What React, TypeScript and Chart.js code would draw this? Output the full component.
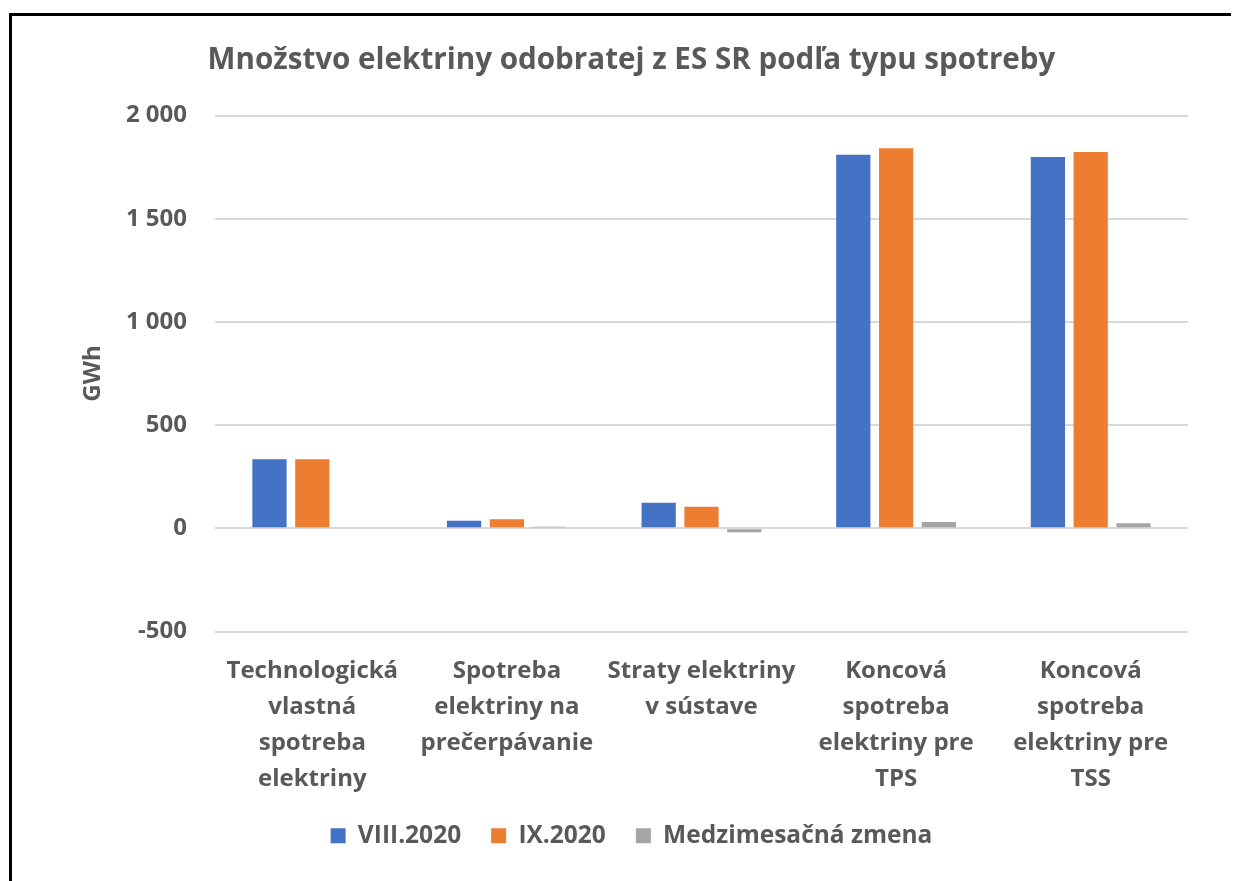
import React, { useEffect, useRef } from "react";
import { Chart, registerables } from "chart.js";

Chart.register(...registerables);

const categories: string[][] = [
  ["Technologická", "vlastná", "spotreba", "elektriny"],
  ["Spotreba", "elektriny na", "prečerpávanie"],
  ["Straty elektriny", "v sústave"],
  ["Koncová", "spotreba", "elektriny pre", "TPS"],
  ["Koncová", "spotreba", "elektriny pre", "TSS"],
];
const augValues = [334, 37, 124, 1810, 1799];
const sepValues = [334, 44, 105, 1841, 1823];
const changeValues = [0, 7, -19, 31, 24];
const seriesNames = ["VIII.2020", "IX.2020", "Medzimesačná zmena"];
const colors = ["#4472C4", "#ED7D31", "#A5A5A5"];
const titleText = "Množstvo elektriny odobratej z ES SR podľa typu spotreby";
const yTitle = "GWh";

const FONT = "'Open Sans', sans-serif";
const TEXT = "#595959";

export default function App() {
  const ref = useRef<HTMLCanvasElement>(null);
  useEffect(() => {
    document.body.style.overflow = "hidden";
    if (!ref.current) return;
    const chart = new Chart(ref.current, {
      type: "bar",
      data: {
        labels: categories,
        datasets: [augValues, sepValues, changeValues].map((d, i) => ({
          label: seriesNames[i],
          data: d,
          backgroundColor: colors[i],
          borderWidth: 0,
          categoryPercentage: 0.66,
          barPercentage: 0.8,
        })),
      },
      options: {
        animation: false,
        responsive: true,
        maintainAspectRatio: false,
        layout: { padding: { left: 63, right: 64, top: 10, bottom: 23 } },
        plugins: {
          title: {
            display: true,
            text: titleText,
            color: TEXT,
            font: { family: FONT, size: 29.6, weight: "bold" },
            padding: { top: 17, bottom: 37 },
          },
          legend: {
            position: "bottom",
            labels: {
              color: TEXT,
              font: { family: FONT, size: 24.5, weight: "bold" },
              boxWidth: 15,
              boxHeight: 15,
              padding: 30,
            },
          },
          tooltip: { enabled: false },
        },
        scales: {
          x: {
            grid: { display: false },
            border: { display: false },
            afterFit: (s: any) => {
              s.height = 162;
            },
            ticks: {
              color: TEXT,
              font: { family: FONT, size: 24, weight: "bold", lineHeight: 1.5 },
              maxRotation: 0,
              autoSkip: false,
              padding: 14,
            },
          },
          y: {
            min: -500,
            max: 2000,
            border: { display: false },
            grid: { color: "#D9D9D9", lineWidth: 2, drawTicks: false },
            afterFit: (s: any) => {
              s.width = 140;
            },
            ticks: {
              stepSize: 500,
              color: TEXT,
              font: { family: FONT, size: 24, weight: "bold" },
              padding: 28,
              callback: (v: any) => String(v).replace(/\B(?=(\d{3})+(?!\d))/g, " "),
            },
            title: {
              display: true,
              text: yTitle,
              color: TEXT,
              font: { family: FONT, size: 24, weight: "bold" },
              padding: { top: 4, bottom: 4 },
            },
          },
        },
      },
    });
    return () => chart.destroy();
  }, []);
  return (
    <div
      style={{
        marginLeft: 1,
        marginTop: 5,
        width: 1240,
        height: 865,
        borderLeft: "3px solid #000",
        borderTop: "3px solid #000",
        position: "relative",
        background: "#fff",
      }}
    >
      <canvas ref={ref} />
    </div>
  );
}
